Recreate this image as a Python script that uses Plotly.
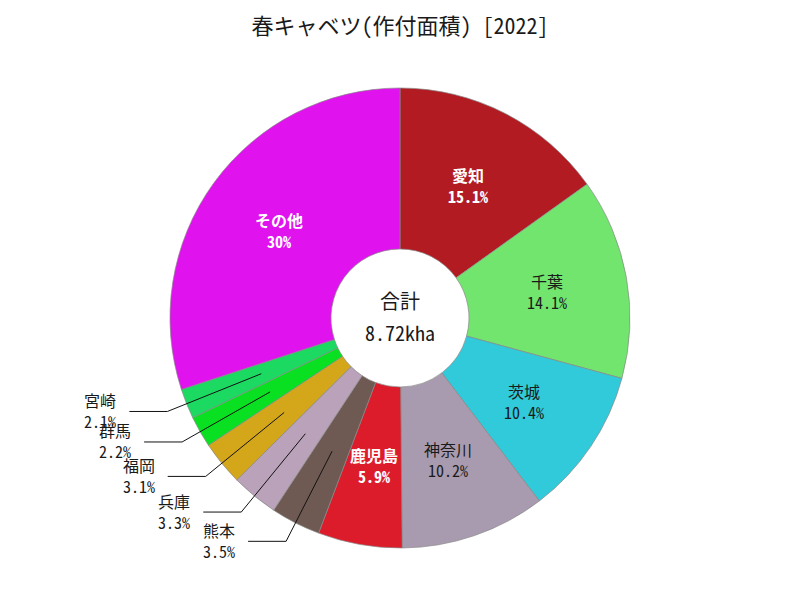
import math
import plotly.graph_objects as go

# ---- data ----
regions = ["愛知", "千葉", "茨城", "神奈川", "鹿児島", "熊本", "兵庫", "福岡", "群馬", "宮崎", "その他"]
shares = [15.1, 14.1, 10.4, 10.2, 5.9, 3.5, 3.3, 3.1, 2.2, 2.1, 30.0]
share_labels = ["15.1%", "14.1%", "10.4%", "10.2%", "5.9%", "3.5%", "3.3%", "3.1%", "2.2%", "2.1%", "30%"]
colors = ["#B21B22", "#72E56E", "#30CADB", "#A99BAF", "#DD1C2B", "#6E5A52",
          "#BAA3BA", "#D4A71A", "#0AE022", "#1CD962", "#E012EE"]
inside = [True, True, True, True, True, False, False, False, False, False, True]
inside_text_color = ["#FFFFFF", "#1A1A1A", "#1A1A1A", "#1A1A1A", "#FFFFFF", None,
                     None, None, None, None, "#FFFFFF"]
total_caption = "合計"
total_label = "8.72kha"
title = "春キャベツ(作付面積) [2022]"

# ---- geometry (layout) ----
W, H = 800, 600
MT, MB = 88, 52
PH = H - MT - MB
CX, CY = W / 2, MT + PH / 2
R = PH / 2
HOLE = 0.3
FONT = "Noto Sans Mono CJK JP, Noto Sans CJK JP, sans-serif"


def px2paper(x, y):
    return x / W, (H - MB - y) / PH


def polar(frac_angle, r):
    th = 2 * math.pi * frac_angle
    return CX + r * math.sin(th), CY - r * math.cos(th)


def ann(x, y, text, size, color):
    xp, yp = px2paper(x, y)
    return dict(x=xp, y=yp, xref="paper", yref="paper", text=text, showarrow=False,
                xanchor="center", yanchor="middle", align="center",
                font=dict(family=FONT, size=size, color=color))


fig = go.Figure(go.Pie(
    labels=regions, values=shares, sort=False, direction="clockwise", rotation=0,
    hole=HOLE, textinfo="none", hoverinfo="label+percent",
    marker=dict(colors=colors, line=dict(color="#888888", width=0.7)),
    domain=dict(x=[0, 1], y=[0, 1]), showlegend=False,
))

annotations = []
shapes = []
total = sum(shares)
cum = 0.0
r_mid = R * (1 + HOLE) / 2
for name, v, lab, inn, tc in zip(regions, shares, share_labels, inside, inside_text_color):
    mid = (cum + v / 2) / total
    cum += v
    if inn:
        x, y = polar(mid, r_mid)
        if tc == "#FFFFFF":
            t = f"<b>{name}</b><br><b>{lab}</b>"
        else:
            t = f"{name}<br>{lab}"
        annotations.append(ann(x, y, t, 16, tc))
    else:
        x0, y0 = polar(mid, R * 0.65)
        x1, y1 = polar(mid, R * 1.09)
        x2, y2 = x1 - 38, y1
        p0, p1, p2 = px2paper(x0, y0), px2paper(x1, y1), px2paper(x2, y2)
        shapes.append(dict(type="path", xref="paper", yref="paper",
                           path=f"M {p0[0]} {p0[1]} L {p1[0]} {p1[1]} L {p2[0]} {p2[1]}",
                           line=dict(color="#111111", width=1)))
        annotations.append(ann(x2 - 29, y2 - 1, f"{name}<br>{lab}", 16, "#1A1A1A"))

annotations.append(ann(CX, 300, total_caption, 20, "#1A1A1A"))
annotations.append(ann(CX, 332, total_label, 20, "#1A1A1A"))

fig.update_layout(
    width=W, height=H,
    margin=dict(l=0, r=0, t=MT, b=MB),
    paper_bgcolor="white", plot_bgcolor="white",
    title=dict(text=title, x=0.5, xanchor="center", y=1 - 26 / H, yanchor="middle",
               font=dict(family=FONT, size=22, color="#1A1A1A")),
    annotations=annotations, shapes=shapes,
)
fig.write_html("out.html")
